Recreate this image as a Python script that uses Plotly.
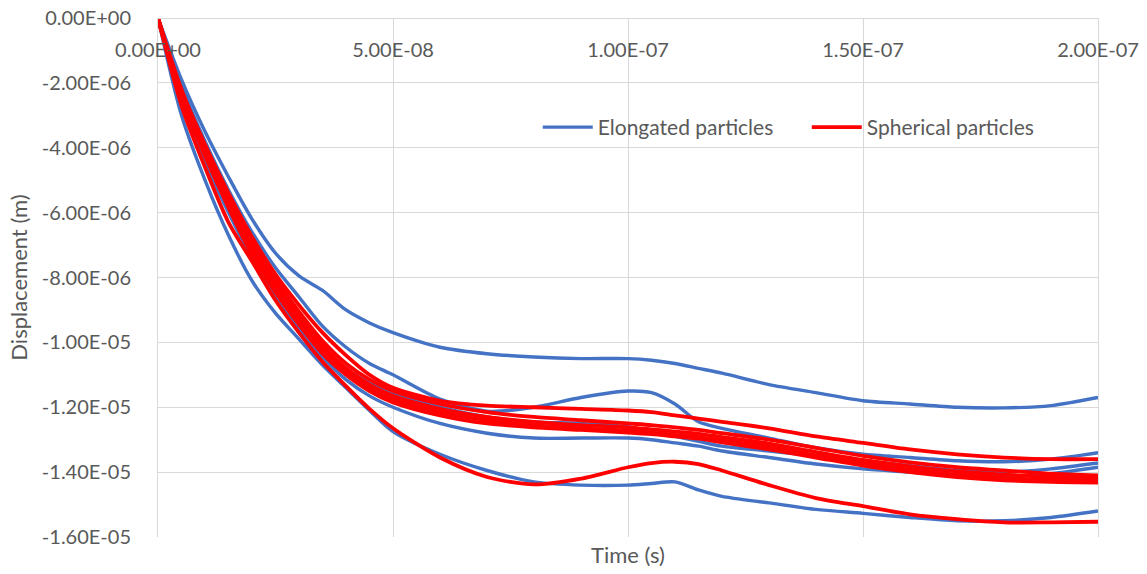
import plotly.graph_objects as go

# time grid, in units of 1e-8 s
time_1e8 = [0, 0.5, 1, 1.5, 2, 2.5, 3, 3.5, 4, 4.5, 5, 6, 7, 8, 9, 10, 10.5, 11, 11.5, 12,
            13, 14, 15, 16, 17, 18, 19, 20]

# displacement values, in units of 1e-6 m
elong_1 = [0, -1.9, -3.5, -4.9, -6.2, -7.25, -7.95, -8.4, -9.0, -9.4, -9.7, -10.15, -10.35, -10.45,
           -10.5, -10.5, -10.55, -10.65, -10.8, -10.95, -11.3, -11.55, -11.8, -11.9, -12.0, -12.02, -11.95, -11.7]
elong_2 = [0, -2.1, -3.8, -5.3, -6.6, -7.7, -8.6, -9.5, -10.15, -10.65, -11.0, -11.75, -12.12, -12.0,
           -11.7, -11.5, -11.55, -11.9, -12.45, -12.65, -12.95, -13.25, -13.45, -13.55, -13.65, -13.68, -13.6, -13.4]
elong_3 = [0, -2.3, -4.0, -5.6, -7.0, -8.2, -9.2, -10.1, -10.8, -11.25, -11.55, -12.0, -12.3, -12.45,
           -12.5, -12.6, -12.75, -12.9, -13.05, -13.2, -13.35, -13.5, -13.65, -13.8, -13.95, -14.0, -13.9, -13.72]
elong_4 = [0, -2.6, -4.4, -6.0, -7.4, -8.6, -9.6, -10.45, -11.15, -11.65, -12.0, -12.5, -12.8, -12.95,
           -12.95, -12.95, -13.0, -13.1, -13.2, -13.35, -13.55, -13.75, -13.9, -14.0, -14.1, -14.15, -14.05, -13.85]
elong_5 = [0, -3.0, -5.0, -6.7, -8.1, -9.1, -9.9, -10.7, -11.4, -12.1, -12.75, -13.45, -13.95, -14.3,
           -14.4, -14.4, -14.35, -14.3, -14.55, -14.75, -14.95, -15.15, -15.27, -15.4, -15.5, -15.5, -15.4, -15.2]

spher_1 = [0, -2.2, -3.9, -5.4, -6.75, -7.9, -8.85, -9.7, -10.4, -11.0, -11.4, -11.8, -11.95, -12.0,
           -12.05, -12.1, -12.15, -12.25, -12.35, -12.45, -12.65, -12.9, -13.1, -13.3, -13.45, -13.55, -13.6, -13.6]
spher_2 = [0, -2.3, -4.0, -5.55, -6.9, -8.05, -9.05, -9.95, -10.65, -11.15, -11.5, -11.9, -12.15, -12.3,
           -12.4, -12.5, -12.55, -12.62, -12.7, -12.8, -13.0, -13.25, -13.5, -13.7, -13.85, -13.95, -14.05, -14.1]
spher_3 = [0, -2.35, -4.1, -5.65, -7.05, -8.2, -9.2, -10.1, -10.8, -11.3, -11.65, -12.05, -12.3, -12.45,
           -12.55, -12.62, -12.68, -12.75, -12.82, -12.92, -13.12, -13.38, -13.62, -13.82, -13.98, -14.08, -14.15, -14.2]
spher_4 = [0, -2.4, -4.2, -5.75, -7.15, -8.3, -9.3, -10.2, -10.9, -11.4, -11.75, -12.15, -12.4, -12.55,
           -12.65, -12.72, -12.78, -12.85, -12.92, -13.02, -13.22, -13.48, -13.72, -13.92, -14.08, -14.18, -14.25, -14.28]
spher_5 = [0, -2.45, -4.25, -5.85, -7.3, -8.45, -9.45, -10.35, -11.0, -11.5, -11.85, -12.25, -12.5, -12.62,
           -12.7, -12.78, -12.83, -12.9, -12.97, -13.08, -13.3, -13.55, -13.8, -14.0, -14.15, -14.25, -14.3, -14.32]
spher_6 = [0, -2.7, -4.6, -6.3, -7.5, -8.7, -9.7, -10.6, -11.35, -12.05, -12.65, -13.55, -14.15, -14.38,
           -14.2, -13.85, -13.72, -13.68, -13.75, -13.95, -14.4, -14.8, -15.05, -15.3, -15.45, -15.55, -15.55, -15.53]

elongated = [elong_1, elong_2, elong_3, elong_4, elong_5]
spherical = [spher_1, spher_2, spher_3, spher_4, spher_5, spher_6]

x_tickvals = [0, 5e-8, 1e-7, 1.5e-7, 2e-7]
x_ticktext = ["0.00E+00", "5.00E-08", "1.00E-07", "1.50E-07", "2.00E-07"]
y_tickvals = [0, -2e-6, -4e-6, -6e-6, -8e-6, -1e-5, -1.2e-5, -1.4e-5, -1.6e-5]
y_ticktext = ["0.00E+00", "-2.00E-06", "-4.00E-06", "-6.00E-06", "-8.00E-06",
              "-1.00E-05", "-1.20E-05", "-1.40E-05", "-1.60E-05"]

BLUE = "#4472C4"
RED = "#FF0000"
FONT = "Lato"
TXT = "#595959"
GRID = "#D9D9D9"

t = [v * 1e-8 for v in time_1e8]

fig = go.Figure()
for i, s in enumerate(elongated):
    fig.add_trace(go.Scatter(x=t, y=[v * 1e-6 for v in s], mode="lines",
                             line=dict(color=BLUE, width=3.4, shape="spline", smoothing=0.8),
                             name="Elongated particles", legendgroup="e", showlegend=(i == 0)))
for i, s in enumerate(spherical):
    fig.add_trace(go.Scatter(x=t, y=[v * 1e-6 for v in s], mode="lines",
                             line=dict(color=RED, width=3.8, shape="spline", smoothing=0.8),
                             name="Spherical particles", legendgroup="s", showlegend=(i == 0)))

fig.update_layout(
    width=1147, height=574,
    margin=dict(l=158, r=49, t=18, b=37, autoexpand=False),
    paper_bgcolor="white", plot_bgcolor="white",
    font=dict(family=FONT, size=20, color=TXT),
    legend=dict(orientation="h", x=0.404, y=0.789, xanchor="left", yanchor="middle",
                bgcolor="rgba(0,0,0,0)", font=dict(size=21, color=TXT),
                entrywidth=204, entrywidthmode="pixels", itemwidth=50),
    annotations=[
        dict(text="Time (s)", x=0.5, y=-0.003, xref="paper", yref="paper",
             xanchor="center", yanchor="top", showarrow=False, font=dict(size=22, color=TXT)),
    ],
)
fig.update_xaxes(range=[0, 2e-7], side="bottom", anchor="free", position=1,
                 tickvals=x_tickvals, ticktext=x_ticktext, ticks="", ticklabelstandoff=14,
                 automargin=False,
                 showgrid=True, gridcolor=GRID, gridwidth=1,
                 showline=True, linecolor=GRID, linewidth=1, mirror=True, zeroline=False)
fig.update_yaxes(range=[-1.6e-5, 0], tickvals=y_tickvals, ticktext=y_ticktext, ticks="",
                 ticklabelstandoff=22, automargin=False,
                 showgrid=True, gridcolor=GRID, gridwidth=1,
                 showline=True, linecolor=GRID, linewidth=1, mirror=True, zeroline=False,
                 title=dict(text="Displacement (m)", font=dict(size=22, color=TXT), standoff=8))

fig.write_html("out.html")
